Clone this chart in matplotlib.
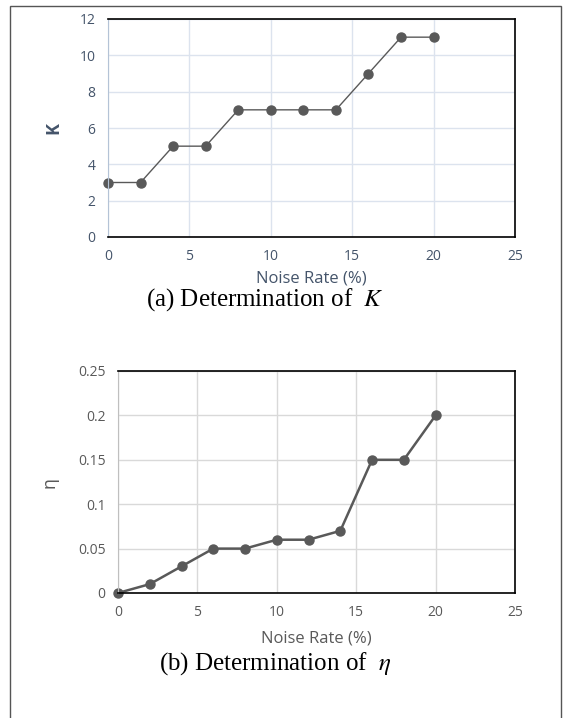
import matplotlib.pyplot as plt
from matplotlib.patches import Rectangle

noise = [0, 2, 4, 6, 8, 10, 12, 14, 16, 18, 20]
k_vals = [3, 3, 5, 5, 7, 7, 7, 7, 9, 11, 11]
eta_vals = [0, 0.01, 0.03, 0.05, 0.05, 0.06, 0.06, 0.07, 0.15, 0.15, 0.2]

W, H = 568, 718
fig = plt.figure(figsize=(W / 100, H / 100), dpi=100)
plt.rcParams['mathtext.fontset'] = 'stix'

# outer frame (bottom edge falls off the page)
fig.patches.append(Rectangle((10 / W, -5 / H), 551 / W, 717 / H, transform=fig.transFigure,
                             fill=False, edgecolor="#555555", linewidth=1.0))

def px_axes(l, t, r, b):
    return fig.add_axes([l / W, 1 - b / H, (r - l) / W, (b - t) / H])

def style(ax, tick_color, grid_color, left_color):
    ax.set_xlim(0, 25)
    ax.set_xticks([0, 5, 10, 15, 20, 25])
    ax.grid(True, color=grid_color, linewidth=1.0)
    ax.set_axisbelow(True)
    for s in ["top", "right", "bottom"]:
        ax.spines[s].set_color("black")
        ax.spines[s].set_linewidth(1.2)
    ax.spines["left"].set_color(left_color)
    ax.tick_params(length=0, labelsize=10, colors=tick_color, pad=9)
    for lab in ax.get_xticklabels() + ax.get_yticklabels():
        lab.set_family("Open Sans")

# (a) K
ax1 = px_axes(108, 19, 515, 237)
ax1.plot(noise, k_vals, color="#595959", linewidth=1.0, marker="o", markersize=6.5, clip_on=False)
ax1.set_ylim(0, 12)
ax1.set_yticks(range(0, 13, 2))
style(ax1, "#44546A", "#DCE3EE", "#B4C3D6")
ax1.set_xlabel("Noise Rate (%)", fontsize=12, color="#44546A", family="Open Sans", labelpad=4)
ax1.set_ylabel("K", fontsize=13, color="#44546A", family="Open Sans", fontweight="bold", labelpad=12)
fig.text(265 / W, 1 - 300 / H, r"(a) Determination of  $K$", ha="center", va="center",
         fontsize=18, family="Liberation Serif")

# (b) eta
ax2 = px_axes(118, 371, 515, 593)
ax2.plot(noise, eta_vals, color="#595959", linewidth=1.8, marker="o", markersize=6.5, clip_on=False)
ax2.set_ylim(0, 0.25)
ax2.set_yticks([0, 0.05, 0.1, 0.15, 0.2, 0.25])
ax2.set_yticklabels(["0", "0.05", "0.1", "0.15", "0.2", "0.25"])
style(ax2, "#595959", "#D9D9D9", "#BFBFBF")
ax2.set_xlabel("Noise Rate (%)", fontsize=12, color="#595959", family="Open Sans", labelpad=7)
ax2.set_ylabel("η", fontsize=13, color="#595959", family="Open Sans", labelpad=14)
fig.text(275 / W, 1 - 664 / H, r"(b) Determination of  $\eta$", ha="center", va="center",
         fontsize=18, family="Liberation Serif")

fig.savefig("out.png", dpi=100)
